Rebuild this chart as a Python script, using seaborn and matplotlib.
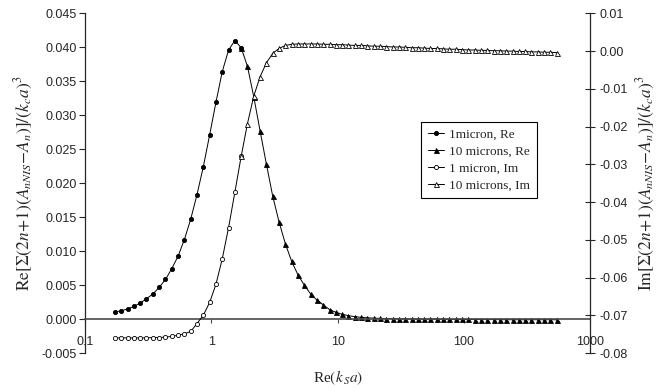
import matplotlib
matplotlib.use("Agg")
import matplotlib.pyplot as plt
import seaborn as sns
import numpy as np

# size parameter k_s*a, log spaced
ka_1um = [0.172, 0.193, 0.217, 0.243, 0.273, 0.306, 0.344, 0.386, 0.433, 0.485,
          0.545, 0.611, 0.686, 0.769, 0.863, 0.969, 1.087, 1.219, 1.368, 1.535,
          1.722]
ka_10um = [1.722, 1.932, 2.168, 2.432, 2.729, 3.062, 3.436, 3.855, 4.325, 4.853,
           5.445, 6.109, 6.855, 7.691, 8.630, 9.683, 10.86, 12.19, 13.68, 15.35,
           17.22, 19.32, 21.68, 24.32, 27.29, 30.62, 34.36, 38.55, 43.25, 48.53,
           54.45, 61.09, 68.55, 76.91, 86.30, 96.83, 108.6, 121.9, 136.8, 153.5,
           172.2, 193.2, 216.8, 243.2, 272.9, 306.2, 343.6, 385.5, 432.5, 485.3,
           544.5]

# real part (left axis)
re_1um = [0.00103, 0.00123, 0.00147, 0.00186, 0.00235, 0.00299, 0.00368, 0.00466,
          0.00583, 0.0074, 0.00926, 0.0117, 0.0147, 0.0183, 0.0224, 0.0271,
          0.0319, 0.0364, 0.0396, 0.0410, 0.03995]
re_10um = [0.03995, 0.0372, 0.0327, 0.0277, 0.0228, 0.0181, 0.0143, 0.0111,
           0.0085, 0.0065, 0.0050, 0.0037, 0.0028, 0.0021, 0.0014, 0.0010,
           0.0007, 0.0005, 0.00035, 0.00025, 0.00018, 0.00013, 0.0001, 0.00007,
           0.00005, 0.00003, 0.00002, 0.00001, 0.0, 0.0, 0.0, -0.00002, -0.00003,
           -0.00004, -0.00005, -0.00006, -0.00006, -0.00007, -0.00007, -0.00008,
           -0.00008, -0.00009, -0.00009, -0.0001, -0.0001, -0.0001, -0.0001,
           -0.0001, -0.0001, -0.0001, -0.0001]

# imaginary part (right axis)
im_1um = [-0.0760, -0.0760, -0.0760, -0.0760, -0.0760, -0.0760, -0.0759, -0.0759,
          -0.0758, -0.0756, -0.0753, -0.0749, -0.0743, -0.0722, -0.0700, -0.0666,
          -0.0618, -0.0551, -0.0468, -0.0374, -0.0279]
im_10um = [-0.0279, -0.0192, -0.0119, -0.0068, -0.0031, -0.0006, 0.0007, 0.0015,
           0.0018, 0.0019, 0.0019, 0.0019, 0.0019, 0.0018, 0.0018, 0.0017, 0.0017,
           0.0016, 0.0015, 0.0015, 0.0014, 0.0013, 0.0013, 0.0012, 0.0011, 0.0011,
           0.0010, 0.0009, 0.0009, 0.0008, 0.0007, 0.0007, 0.0006, 0.0005, 0.0005,
           0.0004, 0.0003, 0.0003, 0.0002, 0.0002, 0.0001, 0.0001, 0.0, 0.0,
           -0.0001, -0.0001, -0.0002, -0.0002, -0.0003, -0.0003, -0.0004]

left_ticks = [-0.005, 0.0, 0.005, 0.010, 0.015, 0.020, 0.025, 0.030, 0.035, 0.040, 0.045]
right_ticks = [-0.08, -0.07, -0.06, -0.05, -0.04, -0.03, -0.02, -0.01, 0.00, 0.01]
x_ticks = [0.1, 1, 10, 100, 1000]
x_ticklabels = ["0.1", "1", "10", "100", "1000"]

sns.set_style("ticks")
plt.rcParams["font.family"] = ["Liberation Sans", "DejaVu Sans"]
plt.rcParams["mathtext.fontset"] = "stix"

fig = plt.figure(figsize=(6.6, 3.88), dpi=100)
ax = fig.add_axes([0.129, 0.0902, 0.765, 0.8753])
ax2 = ax.twinx()

line_kw = dict(color="black", linewidth=0.7, markeredgecolor="black",
               markeredgewidth=0.6, sort=False)

sns.lineplot(x=ka_1um, y=re_1um, ax=ax, marker="o", markersize=3.0,
             markerfacecolor="black", label="1micron, Re", **line_kw)
sns.lineplot(x=ka_10um, y=re_10um, ax=ax, marker="^", markersize=3.6,
             markerfacecolor="black", label="10 microns, Re", **line_kw)
sns.lineplot(x=ka_1um, y=im_1um, ax=ax2, marker="o", markersize=3.0,
             markerfacecolor="white", label="1 micron, Im", **line_kw)
sns.lineplot(x=ka_10um, y=im_10um, ax=ax2, marker="^", markersize=3.6,
             markerfacecolor="white", label="10 microns, Im", **line_kw)

ax.set_xscale("log")
ax.set_xlim(0.1, 1000)
ax.set_ylim(-0.005, 0.045)
ax2.set_ylim(-0.08, 0.01)

ax.set_xticks(x_ticks)
ax.set_xticklabels(x_ticklabels)
ax.xaxis.set_minor_locator(matplotlib.ticker.NullLocator())
ax.set_yticks(left_ticks)
ax.set_yticklabels([f"{v:.3f}" for v in left_ticks])
ax2.set_yticks(right_ticks)
ax2.set_yticklabels([f"{v:.2f}" for v in right_ticks])

# horizontal axis sits on y = 0 like the Excel original
ax.spines["bottom"].set_position(("data", 0))
ax.spines["bottom"].set_color("#4a4a4a")
ax.spines["bottom"].set_linewidth(1.2)
ax.spines["top"].set_visible(False)
ax.spines["right"].set_visible(False)
ax.spines["left"].set_linewidth(0.9)
for s in ["top", "bottom", "left"]:
    ax2.spines[s].set_visible(False)
ax2.spines["right"].set_linewidth(0.9)

ax.tick_params(axis="x", direction="out", length=3, width=0.8, pad=9,
               labelsize=9, color="#4a4a4a")
ax.tick_params(axis="y", direction="out", length=4, width=0.8, labelsize=9, pad=2)
ax2.tick_params(axis="y", direction="inout", length=7, width=0.8, labelsize=9, pad=3)

serif = ["Liberation Serif", "DejaVu Serif"]
ax.set_xlabel(r"Re$(\mathit{k}_{\,S}\mathit{a})$", family=serif, fontsize=11, labelpad=0)
ax.xaxis.set_label_coords(0.5, -0.045)
ax.set_ylabel(r"$\mathrm{Re}[\Sigma(2n\!+\!1)(A_{nNIS}\mathrm{-}A_n)]/(k_c a)^3$",
              family=serif, fontsize=12.5, labelpad=5)
ax2.set_ylabel(r"$\mathrm{Im}[\Sigma(2n\!+\!1)(A_{nNIS}\mathrm{-}A_n)]/(k_c a)^3$",
               family=serif, fontsize=12.5, labelpad=5)

# one legend for both axes
h1, l1 = ax.get_legend_handles_labels()
h2, l2 = ax2.get_legend_handles_labels()
ax.get_legend().remove()
ax2.get_legend().remove()
leg = ax2.legend(h1 + h2, l1 + l2, loc="upper left", bbox_to_anchor=(0.653, 0.70),
                 frameon=True, fancybox=False, edgecolor="black", framealpha=1,
                 handlelength=1.2, handletextpad=0.4, borderpad=0.5,
                 labelspacing=0.35, prop={"family": serif, "size": 9.5})
leg.get_frame().set_linewidth(0.8)

fig.savefig("out.png", dpi=100)
